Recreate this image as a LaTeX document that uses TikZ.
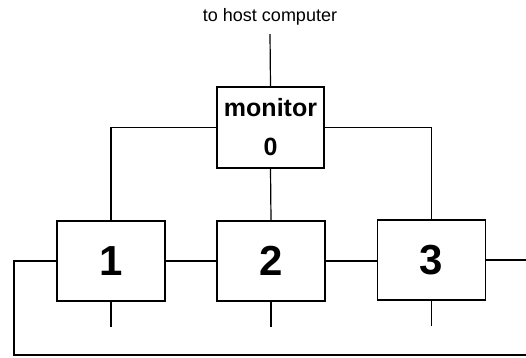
\documentclass[tikz,border=0pt]{standalone}
\usepackage{fontspec}
\setmainfont{Liberation Sans}
\begin{document}
\begin{tikzpicture}[x=1pt,y=-1pt,line width=1.2pt,
  box/.style={draw,rectangle,minimum width=108pt,minimum height=80pt,inner sep=0pt},
  num/.style={font=\fontsize{42}{42}\selectfont\bfseries}]
\useasboundingbox (0,0) rectangle (526,357);
\node[font=\fontsize{18}{18}\selectfont] (host) at (270,17) {to host computer};
\coordinate (htop) at (270,34);
\node[box,minimum width=107pt,minimum height=81pt,align=center,
  font=\fontsize{25}{39}\selectfont\bfseries] (mon) at (270.5,127.5) {monitor\\0};
\node[box,num] (b1) at (111,261) {1};
\node[box,num] (b2) at (271,261) {2};
\node[box,num] (b3) at (431.5,260) {3};
\coordinate (rend) at (526,261);
\coordinate (lcorner) at (14,355);
\coordinate (bend) at (526,355);
\coordinate (s1) at (111,327);
\coordinate (s2) at (271,327);
\coordinate (s3) at (431.5,326);
\draw (htop) -- (mon.north);
\draw (mon.west) -| (b1.north);
\draw (mon.east) -| (b3.north);
\draw (mon.south) -- (b2.north);
\draw (b1.east) -- (b2.west);
\draw (b2.east) -- (b2.east -| b3.west);
\draw (b3.east) -- (b3.east -| rend);
\draw (b1.west) -| (lcorner) -- (bend);
\draw (b1.south) -- (s1);
\draw (b2.south) -- (s2);
\draw (b3.south) -- (s3);
\end{tikzpicture}
\end{document}
